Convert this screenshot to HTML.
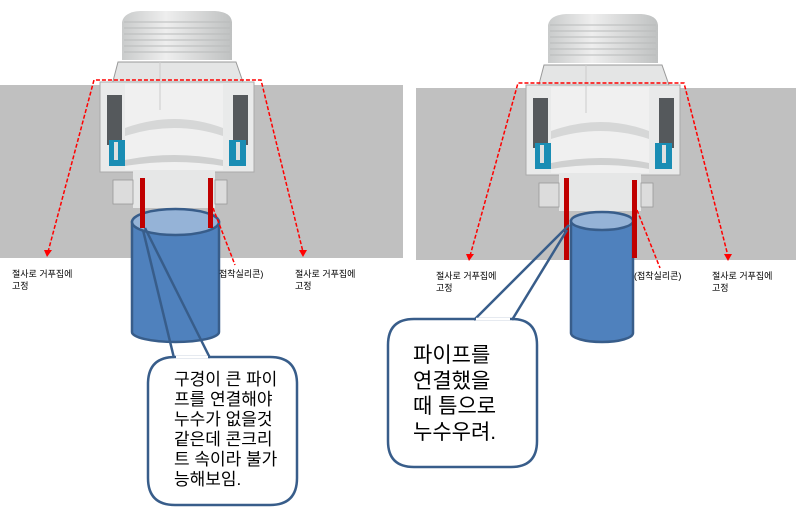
<!DOCTYPE html>
<html><head><meta charset="utf-8"><style>
html,body{margin:0;padding:0;background:#fff;}
svg{display:block;}
text{font-family:"Liberation Sans","Noto Sans CJK KR","NanumGothic",sans-serif;}
</style></head><body>
<svg width="796" height="517" viewBox="0 0 796 517" xmlns="http://www.w3.org/2000/svg">
<defs>
<linearGradient id="cap" x1="0" x2="1"><stop offset="0" stop-color="#c9cbcb"/><stop offset="0.4" stop-color="#eeeeee"/><stop offset="1" stop-color="#bfc1c1"/></linearGradient>
<g id="dev">
  <path d="M122 60 L122 22 Q124 12 140 11 L215 11 Q231 12 232 22 L232 60 Z" fill="url(#cap)"/>
  <g stroke="#b9bbbb" stroke-width="1">
    <line x1="124" y1="22" x2="230" y2="22"/><line x1="124" y1="28" x2="230" y2="28"/>
    <line x1="124" y1="34" x2="230" y2="34"/><line x1="124" y1="40" x2="230" y2="40"/>
    <line x1="124" y1="46" x2="230" y2="46"/><line x1="124" y1="52" x2="230" y2="52"/>
  </g>
  <path d="M112 85 L118 62 L236 62 L244 85 Z" fill="#e4e5e5" stroke="#999" stroke-width="1"/>
  <rect x="100" y="82" width="154" height="90" fill="#e9eaea" stroke="#aaa" stroke-width="1"/>
  <rect x="107" y="95" width="15" height="50" fill="#55595c"/>
  <rect x="233" y="95" width="15" height="50" fill="#55595c"/>
  <rect x="109" y="140" width="16" height="26" fill="#1a8db4"/>
  <rect x="229" y="140" width="17" height="26" fill="#1a8db4"/>
  <rect x="114" y="142" width="4" height="18" fill="#e0e0e0"/>
  <rect x="236" y="142" width="4" height="18" fill="#e0e0e0"/>
  <rect x="125" y="84" width="98" height="86" fill="#f0f0f0"/>
  <path d="M125 128 Q175 110 223 128 L223 136 Q175 120 125 136 Z" fill="#d6d7d7"/>
  <path d="M125 160 Q175 150 223 160 L223 166 Q175 158 125 166 Z" fill="#cfd0d0"/>
  <line x1="160" y1="62" x2="160" y2="110" stroke="#ccc"/>
  <rect x="133" y="170" width="82" height="38" fill="#e6e7e7"/>
  <rect x="113" y="180" width="20" height="24" fill="#dcdcdc" stroke="#999" stroke-width="0.8"/>
  <rect x="215" y="180" width="12" height="24" fill="#dcdcdc" stroke="#999" stroke-width="0.8"/>
</g>
</defs>

<rect x="0" y="85" width="400" height="173" fill="#c0c0c0"/>
<rect x="400" y="85" width="3" height="173" fill="#c0c0c0"/>
<rect x="416" y="88" width="380" height="172" fill="#c0c0c0"/>

<use href="#dev"/>
<use href="#dev" transform="translate(426,3)"/>

<path d="M132 222 L132 332 A43.5 10 0 0 0 219 332 L219 222 Z" fill="#4f81bd" stroke="#385d8a" stroke-width="2.5"/>
<ellipse cx="175.5" cy="222" rx="43.5" ry="13" fill="#95b3d7" stroke="#385d8a" stroke-width="2.5"/>
<rect x="140" y="178" width="5" height="50" fill="#c00000"/>
<rect x="208" y="178" width="5" height="50" fill="#c00000"/>

<path d="M571 221 L571 333 A31 9 0 0 0 633 333 L633 221 Z" fill="#4f81bd" stroke="#385d8a" stroke-width="2.5"/>
<ellipse cx="602" cy="221" rx="31" ry="9" fill="#95b3d7" stroke="#385d8a" stroke-width="2.5"/>
<rect x="564" y="178" width="5" height="82" fill="#c00000"/>
<rect x="632" y="180" width="5" height="78" fill="#c00000"/>

<g fill="none" stroke="#ff0000" stroke-width="1.5" stroke-dasharray="4,2">
  <path d="M48 252 L94 80 L261 80 L303 252"/>
  <path d="M470 256 L518 83 L684 83 L728 256"/>
  <path d="M213 208 L235 265"/>
  <path d="M637 210 L660 268"/>
</g>
<g fill="#ff0000">
  <path d="M44 250 L52 250 L47 257 Z"/><path d="M299 250 L307 250 L303 257 Z"/>
  <path d="M466 254 L474 254 L469 261 Z"/><path d="M724 254 L732 254 L728 261 Z"/>
</g>

<g font-size="9" fill="#000">
  <text x="12" y="277">절사로 거푸집에</text><text x="12" y="289">고정</text>
  <text x="295" y="277">절사로 거푸집에</text><text x="295" y="289">고정</text>
  <text x="219" y="277">접착실리콘)</text>
  <text x="436" y="279">절사로 거푸집에</text><text x="436" y="291">고정</text>
  <text x="712" y="279">절사로 거푸집에</text><text x="712" y="291">고정</text>
  <text x="634" y="279">(접착실리콘)</text>
</g>

<!-- left bubble -->
<path d="M174 357 L210 357 L270 357 Q297 357 297 384 L297 478 Q297 505 270 505 L175 505 Q148 505 148 478 L148 384 Q148 357 175 357 Z" fill="#fff" stroke="#385d8a" stroke-width="2.5" stroke-linejoin="round"/>
<line x1="143" y1="230" x2="174" y2="358" stroke="#385d8a" stroke-width="2.5"/>
<line x1="145" y1="228" x2="210" y2="358" stroke="#385d8a" stroke-width="2.5"/>
<line x1="176" y1="357" x2="208" y2="357" stroke="#fff" stroke-width="2.5"/>
<g font-size="17" fill="#000">
  <text x="174" y="385">구경이 큰 파이</text>
  <text x="174" y="405">프를 연결해야</text>
  <text x="174" y="425">누수가 없을것</text>
  <text x="174" y="445">같은데 콘크리</text>
  <text x="174" y="465">트 속이라 불가</text>
  <text x="174" y="485">능해보임.</text>
</g>

<!-- right bubble -->
<path d="M474 319 L512 319 Q537 319 537 345 L537 441 Q537 467 511 467 L414 467 Q388 467 388 441 L388 345 Q388 319 414 319 Z" fill="#fff" stroke="#385d8a" stroke-width="2.5" stroke-linejoin="round"/>
<line x1="569" y1="225" x2="474" y2="320" stroke="#385d8a" stroke-width="2.5"/>
<line x1="567" y1="230" x2="512" y2="320" stroke="#385d8a" stroke-width="2.5"/>
<line x1="476" y1="319" x2="510" y2="319" stroke="#fff" stroke-width="2.5"/>
<g font-size="21" fill="#000">
  <text x="413" y="362">파이프를</text>
  <text x="413" y="388">연결했을</text>
  <text x="413" y="413">때 틈으로</text>
  <text x="413" y="439">누수우려.</text>
</g>
</svg>
</body></html>
